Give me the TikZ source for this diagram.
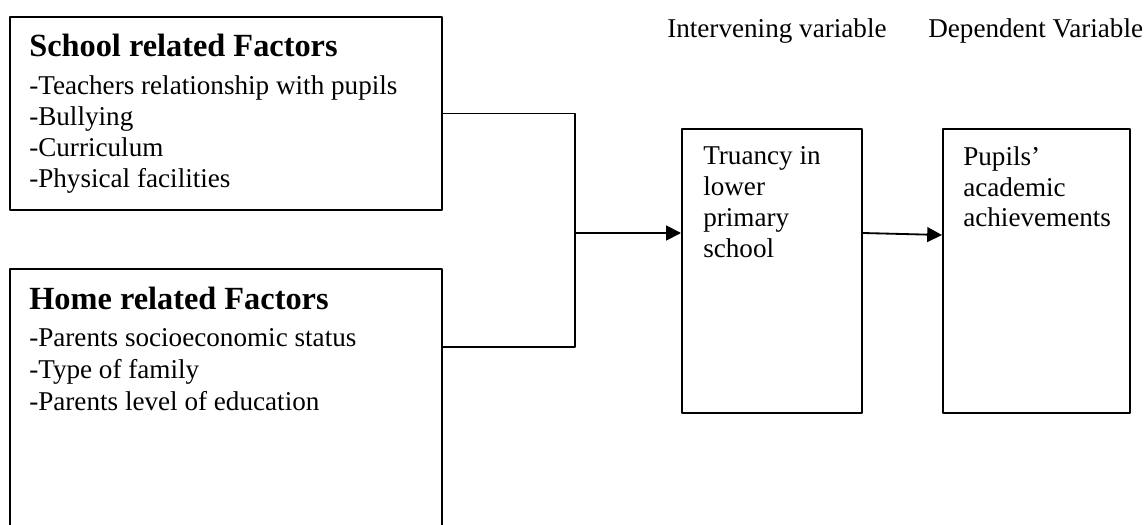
\documentclass[tikz,border=0pt]{standalone}
\usepackage{fontspec}
\setmainfont{Liberation Serif}
\usetikzlibrary{arrows.meta,calc}
\tikzset{
	factorbox/.style={draw,line width=1.3pt,minimum width=10.8cm,inner sep=0pt,anchor=north west},
	varbox/.style={draw,line width=1.3pt,minimum height=7.1cm,inner sep=0pt,anchor=north west},
	boxtext/.style={anchor=north west,inner sep=0pt,align=left,font=\fontsize{19.3}{22}\selectfont},
	headtext/.style={anchor=base west,inner sep=0pt,font=\fontsize{19.3}{22}\selectfont}
}
\begin{document}
\begin{tikzpicture}[x=0.025cm,y=-0.025cm,line join=round,>={Triangle[length=3.7mm,width=3.7mm]}]
	\useasboundingbox (0,0) rectangle (1145,525);
	\path
	(9,16) coordinate (S)
	(9,268) coordinate (H)
	(681,128) coordinate (T)
	(942,128) coordinate (P)
	(575,233) coordinate (J);
	% boxes
	\node[factorbox,minimum height=4.825cm] (school) at (S) {};
	\node[factorbox,minimum height=7.6cm] (home) at (H) {};
	\node[varbox,minimum width=4.5cm] (truancy) at (T) {};
	\node[varbox,minimum width=4.675cm] (pupils) at (P) {};
	% texts in the boxes
	\node[boxtext] (schooltext) at (29,34) {{\fontsize{23}{22}\selectfont\bfseries School related Factors}\\[5pt]
		-Teachers relationship with pupils\\-Bullying\\-Curriculum\\-Physical facilities};
	\node[boxtext] (hometext) at (29,287) {{\fontsize{23}{22}\selectfont\bfseries Home related Factors}\\[4pt]
		-Parents socioeconomic status\\[0.7pt]-Type of family\\[0.7pt]-Parents level of education};
	\node[boxtext] (truancytext) at (703,146) {Truancy in\\lower\\primary\\school};
	\node[boxtext] (pupilstext) at (963,146) {Pupils’\\academic\\achievements};
	% headings on top
	\node[headtext] (inter) at (667,38) {Intervening variable};
	\node[headtext] (dep) at (928,38) {Dependent Variable};
	% connectors
	\coordinate (hj) at ($(home.north east)+(0,79)$);
	\draw[line width=1.3pt] (school.east) -| (J) |- (hj);
	\draw[line width=1.3pt,->] (J) -- (truancy.west |- J);
	\draw[line width=1.3pt,->] (truancy.east |- J) -- ($(pupils.west |- J)+(0,2)$);
\end{tikzpicture}
\end{document}
